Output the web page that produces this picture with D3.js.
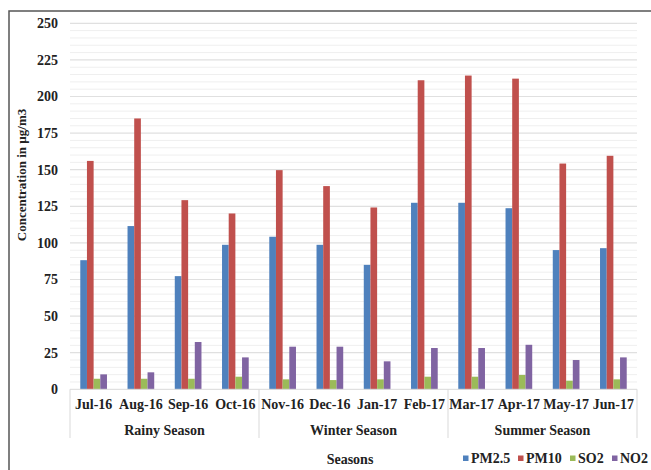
<!DOCTYPE html>
<html>
<head>
<meta charset="utf-8">
<script src="https://cdn.jsdelivr.net/npm/d3@7"></script>
<style>
  html, body { margin: 0; padding: 0; background: #fff; }
  svg { display: block; }
  text { font-family: "Liberation Serif", "Times New Roman", serif; font-weight: bold; fill: #222; }
</style>
</head>
<body>
<svg id="chart" width="651" height="470"></svg>
<script>
const months = ["Jul-16","Aug-16","Sep-16","Oct-16","Nov-16","Dec-16","Jan-17","Feb-17","Mar-17","Apr-17","May-17","Jun-17"];
const seasons = ["Rainy Season","Winter Season","Summer Season"];
const seriesNames = ["PM2.5","PM10","SO2","NO2"];
const pm25 = [88.2, 111.5, 77.3, 98.7, 104.2, 98.7, 85.0, 127.4, 127.4, 123.7, 95.1, 96.4];
const pm10 = [156.0, 185.0, 129.2, 120.1, 149.7, 138.8, 124.2, 211.1, 214.3, 212.2, 154.2, 159.5];
const so2  = [7.2, 7.2, 7.2, 8.6, 6.8, 6.3, 6.8, 8.6, 8.6, 9.8, 5.9, 6.8];
const no2  = [10.2, 11.6, 32.3, 21.8, 29.1, 29.1, 19.1, 28.2, 28.2, 30.4, 20.0, 21.8];
const yTicks = [0, 25, 50, 75, 100, 125, 150, 175, 200, 225, 250];
const colors = ["#4F81BD", "#C0504D", "#9BBB59", "#8064A2"];

const seriesValues = [pm25, pm10, so2, no2];
const svg = d3.select("#chart");

// outer frame
svg.append("rect").attr("x", 9).attr("y", 11).attr("width", 660).attr("height", 480)
  .attr("fill", "none").attr("stroke", "#555").attr("stroke-width", 1.5);

const plotL = 70, plotR = 637, plotT = 23.3, plotB = 389.3;
const y = d3.scaleLinear().domain([0, 250]).range([plotB, plotT]);
const x0 = d3.scaleBand().domain(months).range([plotL, plotR]).padding(0);
const x1 = d3.scaleBand().domain(seriesNames).range([0, x0.bandwidth()]).paddingInner(0).paddingOuter(1.54);

// minor gridlines
const minor = d3.range(5, 251, 5).filter(v => v % 25 !== 0);
svg.append("g").selectAll("line").data(minor).join("line")
  .attr("x1", plotL).attr("x2", plotR)
  .attr("y1", d => y(d)).attr("y2", d => y(d))
  .attr("stroke", "#efefef").attr("stroke-width", 1);
// major gridlines
svg.append("g").selectAll("line").data(yTicks.filter(v => v > 0)).join("line")
  .attr("x1", plotL).attr("x2", plotR)
  .attr("y1", d => y(d)).attr("y2", d => y(d))
  .attr("stroke", "#e0e0e0").attr("stroke-width", 1.2);

// y axis labels
const yAxis = d3.axisLeft(y).tickValues(yTicks).tickSize(0).tickPadding(12);
const gy = svg.append("g").attr("transform", `translate(${plotL},0)`).call(yAxis);
gy.select(".domain").remove();
gy.selectAll("text").attr("font-size", 14).attr("font-family", "Liberation Serif").attr("font-weight", "bold").attr("fill", "#222");

// bars
const groups = svg.append("g").selectAll("g").data(months).join("g")
  .attr("transform", d => `translate(${x0(d)},0)`);
groups.selectAll("rect").data((m, i) => seriesNames.map((s, k) => ({ s, k, v: seriesValues[k][i] })))
  .join("rect")
  .attr("x", d => x1(d.s))
  .attr("width", x1.bandwidth())
  .attr("y", d => y(d.v))
  .attr("height", d => y(0) - y(d.v))
  .attr("fill", d => colors[d.k]);

// category axis line
svg.append("line").attr("x1", plotL).attr("x2", plotR).attr("y1", y(0)).attr("y2", y(0))
  .attr("stroke", "#d9d9d9").attr("stroke-width", 1);

// month labels
const xAxis = d3.axisBottom(x0).tickSize(0).tickPadding(10);
const gx = svg.append("g").attr("transform", `translate(0,${y(0)})`).call(xAxis);
gx.select(".domain").remove();
gx.selectAll("text").attr("font-size", 14).attr("font-family", "Liberation Serif").attr("font-weight", "bold").attr("fill", "#222");

// season separators and labels
const seasonBounds = [0, 4, 8, 12];
svg.append("g").selectAll("line").data(seasonBounds).join("line")
  .attr("x1", d => d < 12 ? x0(months[d]) : x0(months[11]) + x0.bandwidth())
  .attr("x2", d => d < 12 ? x0(months[d]) : x0(months[11]) + x0.bandwidth())
  .attr("y1", y(0)).attr("y2", 438)
  .attr("stroke", "#d9d9d9").attr("stroke-width", 1);
svg.append("g").selectAll("text").data(seasons).join("text")
  .attr("x", (d, i) => (x0(months[i * 4]) + x0(months[i * 4 + 3]) + x0.bandwidth()) / 2)
  .attr("y", 435)
  .attr("text-anchor", "middle").attr("font-size", 14)
  .text(d => d);

// axis titles
svg.append("text").attr("x", 350).attr("y", 464).attr("text-anchor", "middle").attr("font-size", 14).text("Seasons");
svg.append("text").attr("transform", "translate(26,175) rotate(-90)").attr("text-anchor", "middle")
  .attr("font-size", 13).text("Concentration in µg/m3");

// legend
const legendX = [463, 518, 570, 612];
const leg = svg.append("g").selectAll("g").data(seriesNames).join("g")
  .attr("transform", (d, i) => `translate(${legendX[i]},458)`);
leg.append("rect").attr("x", 0).attr("y", -2.5).attr("width", 5.5).attr("height", 5.5).attr("fill", (d, i) => colors[i]);
leg.append("text").attr("x", 8).attr("y", 5).attr("font-size", 14).text(d => d);
</script>
</body>
</html>
